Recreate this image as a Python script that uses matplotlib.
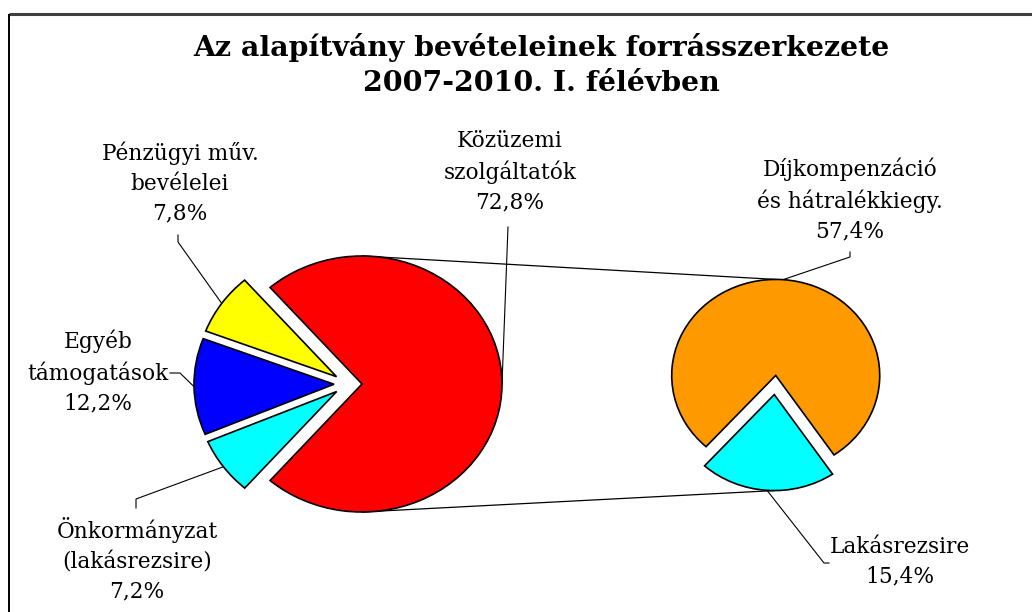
import matplotlib
matplotlib.use('Agg')
import matplotlib.pyplot as plt
import numpy as np

# Chart data
title = 'Az alapítvány bevételeinek forrásszerkezete\n2007-2010. I. félévben'
main_labels = ['Közüzemi\nszolgáltatók', 'Pénzügyi műv.\nbevélelei', 'Egyéb\ntámogatások',
               'Önkormányzat\n(lakásrezsire)']
main_values = [72.8, 7.8, 12.2, 7.2]
main_colors = ['#FF0000', '#FFFF00', '#0000FF', '#00FFFF']
sub_labels = ['Díjkompenzáció\nés hátralékkiegy.', 'Lakásrezsire']
sub_values = [57.4, 15.4]
sub_colors = ['#FF9900', '#00FFFF']

# Layout (pixels, y from top)
W, H = 1032, 612
main_center, main_radii = (348, 384), (140, 128)
sub_center, sub_radii = (775, 385), (104, 96)
sub_cyan_dir = 266  # direction of the broken-out secondary slice
main_label_pos = [(510, 172), (180, 183), (98, 372), (137, 560)]
main_label_elbow = [[(508, 227)], [(178, 235), (178, 242)], [(170, 373), (180, 373)],
                    [(136, 508), (136, 499)]]
sub_label_pos = [(850, 200), (900, 562)]
sub_label_elbow = [[(850, 252), (850, 257)], [(829, 563), (824, 563)]]

label_font = dict(family='DejaVu Serif', fontsize=15.6, linespacing=1.45, ha='center', va='center')
wedge_style = dict(edgecolor='black', linewidth=1.2)

fig = plt.figure(figsize=(W / 100, H / 100), dpi=100)

# Overlay axes in pixel co-ordinates for texts and lines:
ax = fig.add_axes([0, 0, 1, 1])
ax.set_xlim(0, W)
ax.set_ylim(H, 0)
ax.axis('off')


def pie_axes(center, radii):
    cx, cy = center
    a, b = radii
    return fig.add_axes([(cx - 1.25 * a) / W, 1 - (cy + 1.25 * b) / H, 2.5 * a / W, 2.5 * b / H])


def fix_pie(axp):
    axp.set_aspect('auto')
    axp.set_xlim(-1.25, 1.25)
    axp.set_ylim(-1.25, 1.25)


# Main pie, the big slice centred on the right side:
ax_main = pie_axes(main_center, main_radii)
start_main = -main_values[0] / sum(main_values) * 360 / 2
wedges_main, _ = ax_main.pie(main_values, colors=main_colors, startangle=start_main,
                             explode=[0.1] * len(main_values), wedgeprops=wedge_style)
fix_pie(ax_main)

# Secondary pie breaking down the big slice:
ax_sub = pie_axes(sub_center, sub_radii)
sub_deg = np.array(sub_values) / sum(sub_values) * 360
start_sub = sub_cyan_dir - sub_deg[0] - sub_deg[1] / 2
wedges_sub, _ = ax_sub.pie(sub_values, colors=sub_colors, startangle=start_sub,
                           explode=[0.1] * len(sub_values), wedgeprops=wedge_style)
fix_pie(ax_sub)


def rim(axp, wedge, ang):
    x0, y0 = wedge.center
    t = np.deg2rad(ang)
    p = axp.transData.transform((x0 + wedge.r * np.cos(t), y0 + wedge.r * np.sin(t)))
    return ax.transData.inverted().transform(p)


def mid(wedge):
    return (wedge.theta1 + wedge.theta2) / 2


# Connector lines between the pies:
for ang_main, wedge_sub, ang_sub in [(90, wedges_sub[0], 90), (270, wedges_sub[1], 270)]:
    p1 = rim(ax_main, wedges_main[0], ang_main)
    p2 = rim(ax_sub, wedge_sub, ang_sub)
    ax.plot([p1[0], p2[0]], [p1[1], p2[1]], color='black', lw=0.9)


def fmt(label, value):
    return label + '\n' + f'{value:.1f}'.replace('.', ',') + '%'


# Labels with leader lines:
for axp, wedges, labels, values, positions, elbows in [
        (ax_main, wedges_main, main_labels, main_values, main_label_pos, main_label_elbow),
        (ax_sub, wedges_sub, sub_labels, sub_values, sub_label_pos, sub_label_elbow)]:
    for wedge, label, value, pos, elbow in zip(wedges, labels, values, positions, elbows):
        ax.text(pos[0], pos[1], fmt(label, value), **label_font)
        end = rim(axp, wedge, mid(wedge))
        pts = np.array(elbow + [tuple(end)])
        ax.plot(pts[:, 0], pts[:, 1], color='black', lw=0.8)

# Title:
ax.text(541, 65, title, family='DejaVu Serif', fontsize=20.4, fontweight='bold',
        ha='center', va='center', linespacing=1.36)

# Chart border (cropped on the right and bottom):
ax.plot([9, W], [14, 14], color='#404040', lw=2.2, solid_capstyle='butt')
ax.plot([9, 9], [14, H], color='black', lw=1.4, solid_capstyle='butt')

fig.savefig('out.png', dpi=100)
